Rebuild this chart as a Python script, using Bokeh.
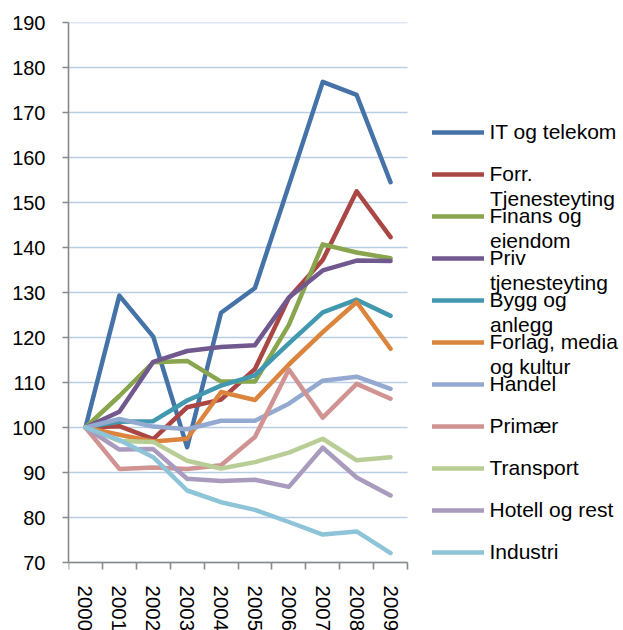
import math
from bokeh.plotting import figure
from bokeh.models import Range1d, FixedTicker, Legend, LegendItem, Label
from bokeh.embed import file_html
from bokeh.resources import INLINE

# ---------------- data ----------------
years = ["2000", "2001", "2002", "2003", "2004", "2005", "2006", "2007", "2008", "2009"]
y_ticks = [70, 80, 90, 100, 110, 120, 130, 140, 150, 160, 170, 180, 190]

it_telekom = [100, 129.3, 120.2, 95.6, 125.5, 131.0, 153.8, 176.8, 173.9, 154.5]
forr_tjenesteyting = [100, 100.3, 97.4, 104.5, 106.2, 113.0, 128.8, 137.2, 152.5, 142.3]
finans_eiendom = [100, 107.0, 114.5, 114.8, 110.2, 110.2, 122.8, 140.7, 138.9, 137.6]
priv_tjenesteyting = [100, 103.5, 114.6, 117.0, 117.9, 118.3, 128.9, 134.9, 137.1, 137.0]
bygg_anlegg = [100, 101.3, 101.4, 106.0, 109.3, 111.6, 118.7, 125.6, 128.4, 124.8]
forlag_media = [100, 98.4, 96.9, 97.5, 107.9, 106.1, 114.0, 121.2, 127.9, 117.5]
handel = [100, 101.9, 100.2, 99.6, 101.5, 101.5, 105.3, 110.4, 111.3, 108.6]
primaer = [100, 90.8, 91.1, 90.8, 91.6, 97.9, 112.9, 102.2, 109.7, 106.4]
transport = [100, 97.0, 96.8, 92.6, 90.9, 92.3, 94.4, 97.5, 92.7, 93.4]
hotell_rest = [100, 95.1, 95.2, 88.6, 88.1, 88.4, 86.8, 95.5, 88.9, 84.9]
industri = [100, 97.2, 93.4, 86.0, 83.4, 81.7, 79.0, 76.2, 76.9, 72.1]

series = [it_telekom, forr_tjenesteyting, finans_eiendom, priv_tjenesteyting,
          bygg_anlegg, forlag_media, handel, primaer, transport, hotell_rest, industri]
label_lines = [["IT og telekom"], ["Forr.", "Tjenesteyting"], ["Finans og", "eiendom"],
               ["Priv", "tjenesteyting"], ["Bygg og", "anlegg"], ["Forlag, media", "og kultur"],
               ["Handel"], ["Primær"], ["Transport"], ["Hotell og rest"], ["Industri"]]
colors = ["#4573A8", "#AA4643", "#89A54E", "#71588F", "#4198AF", "#DB843D",
          "#93A9CF", "#D19392", "#B9CD96", "#A99BBD", "#8EC4D8"]

FONT = "Liberation Sans"
AXIS_GRAY = "#888888"
GRID_COLOR = "#B9CDE5"
LEGEND_FS = "21px"

# ---------------- layout helpers ----------------
LEFT, TOP = 68, 22
PLOT_W, PLOT_H = 339, 540     # pixel size of the data area (grid region)
FRAME_W, FRAME_H = 555, 608   # frame also hosts the legend and the x labels

x_idx = list(range(len(years)))
x_lo, x_hi = -0.5, len(years) - 0.5
bounds = [i - 0.5 for i in range(len(years) + 1)]
x_end = x_lo + (x_hi - x_lo) * FRAME_W / PLOT_W
y_min, y_max = y_ticks[0], y_ticks[-1]
y_start = y_max - (y_max - y_min) * FRAME_H / PLOT_H

p = figure(frame_width=FRAME_W, frame_height=FRAME_H, output_backend="svg", toolbar_location=None,
           x_range=Range1d(x_lo, x_end), y_range=Range1d(y_start, y_max),
           min_border_left=LEFT, min_border_right=0, min_border_top=TOP, min_border_bottom=0)
p.outline_line_color = None
p.background_fill_color = "white"
p.border_fill_color = "white"
p.grid.visible = False

# horizontal gridlines limited to the data area
p.segment(x0=[x_lo] * len(y_ticks), y0=y_ticks, x1=[x_hi] * len(y_ticks), y1=y_ticks,
          line_color=GRID_COLOR, line_width=1.5)

# y axis
p.yaxis.bounds = (y_min, y_max)
p.yaxis.ticker = FixedTicker(ticks=y_ticks)
p.yaxis.axis_line_color = AXIS_GRAY
p.yaxis.axis_line_width = 1.6
p.yaxis.major_tick_line_color = AXIS_GRAY
p.yaxis.major_tick_line_width = 1.6
p.yaxis.major_tick_out = 6
p.yaxis.major_tick_in = 0
p.yaxis.minor_tick_line_color = None
p.yaxis.major_label_standoff = 17
p.yaxis.major_label_text_font = FONT
p.yaxis.major_label_text_font_size = "20px"
p.yaxis.major_label_text_color = "black"

# x axis, drawn at y = 70 inside the frame
p.xaxis.fixed_location = y_min
p.xaxis.bounds = (x_lo, x_hi)
p.xaxis.ticker = FixedTicker(ticks=x_idx, minor_ticks=bounds)
p.xaxis.major_label_overrides = {i: y for i, y in zip(x_idx, years)}
p.xaxis.axis_line_color = AXIS_GRAY
p.xaxis.axis_line_width = 1.6
p.xaxis.major_tick_line_color = None
p.xaxis.major_tick_out = 0
p.xaxis.major_tick_in = 0
p.xaxis.minor_tick_line_color = AXIS_GRAY
p.xaxis.minor_tick_line_width = 1.6
p.xaxis.minor_tick_out = 7
p.xaxis.minor_tick_in = 0
p.xaxis.major_label_orientation = -math.pi / 2
p.xaxis.major_label_standoff = 16
p.xaxis.major_label_text_font = FONT
p.xaxis.major_label_text_font_size = "20.5px"
p.xaxis.major_label_text_color = "black"

renderers = []
for vals, c in zip(series, colors):
    r = p.line(x_idx, vals, line_color=c, line_width=4.5, line_cap="round", line_join="round")
    renderers.append(r)

# ---------------- legend ----------------
ITEM_H = 42
n_items = len(series)
legend_h = ITEM_H * n_items
vx = 363.5                       # px from frame left
top_center = 132.3 - TOP         # px from frame top to first item centre
vy = FRAME_H - (top_center - ITEM_H / 2) - legend_h
GLYPH_W = 52
STANDOFF = 6

items = [LegendItem(label=ll[0], renderers=[r]) for ll, r in zip(label_lines, renderers)]
legend = Legend(items=items, location=(vx, vy), padding=0, spacing=0, margin=0,
                label_height=ITEM_H, glyph_height=ITEM_H, glyph_width=GLYPH_W,
                label_standoff=STANDOFF, border_line_color=None, background_fill_alpha=0,
                label_text_font=FONT, label_text_font_size=LEGEND_FS, label_text_color="black")
p.add_layout(legend)

for i, ll in enumerate(label_lines):
    if len(ll) > 1:
        cy = FRAME_H - top_center - ITEM_H * i - 24
        p.add_layout(Label(x=vx + GLYPH_W + STANDOFF, y=cy, x_units="screen", y_units="screen",
                           text=ll[1], text_baseline="middle", text_align="left",
                           text_font=FONT, text_font_size=LEGEND_FS, text_color="black"))

open("out.html", "w").write(file_html(p, INLINE))
